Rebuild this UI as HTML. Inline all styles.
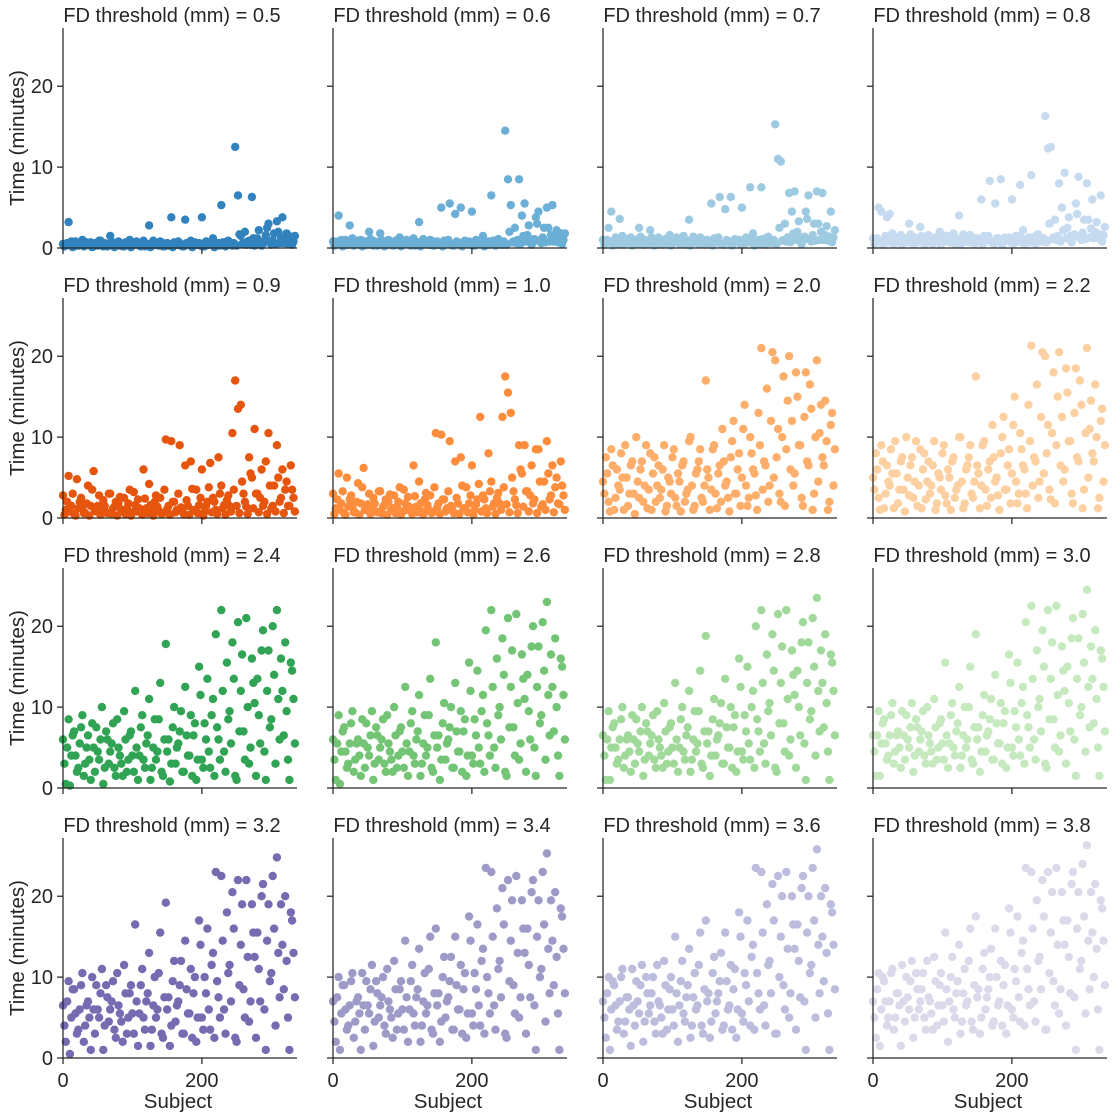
<!DOCTYPE html>
<html><head><meta charset="utf-8">
<style>
html,body{margin:0;padding:0;background:#fff;}
svg{display:block;font-family:"Liberation Sans",sans-serif;}
</style></head>
<body>
<svg id="chart" width="1119" height="1119" viewBox="0 0 1119 1119" xmlns="http://www.w3.org/2000/svg"></svg>
<script>
const thresholds = ["0.5","0.6","0.7","0.8","0.9","1.0","2.0","2.2","2.4","2.6","2.8","3.0","3.2","3.4","3.6","3.8"];
const colors = ["#3182bd","#6baed6","#9ecae1","#c6dbef","#e6550d","#fd8d3c","#fdae6b","#fdd0a2","#31a354","#74c476","#a1d99b","#c7e9c0","#756bb1","#9e9ac8","#bcbddc","#dadaeb"];
const subjects = [0,4,8,12,16,20,24,28,32,36,40,44,48,52,56,60,64,68,72,76,80,84,88,92,96,100,104,108,112,116,120,124,128,132,136,140,144,148,152,156,160,164,168,172,176,180,184,188,192,196,200,204,208,212,216,220,224,228,232,236,240,244,248,252,256,260,264,268,272,276,280,284,288,292,296,300,304,308,312,316,320,324,328,332];
const subjectsB = [2,6,10,14,18,22,26,30,34,38,42,46,50,54,58,62,66,70,74,78,82,86,90,94,98,102,106,110,114,118,122,126,130,134,138,142,146,150,154,158,162,166,170,174,178,182,186,190,194,198,202,206,210,214,218,222,226,230,234,238,242,246,250,254,258,262,266,270,274,278,282,286,290,294,298,302,306,310,314,318,322,326,330,334];
const yTicks = [0,10,20];
const xTicks = [0,200];
const v05 = [0.5,0.3,3.2,0.8,0.2,0.6,0.4,1.0,0.3,0.5,0.7,0.2,0.4,0.9,0.3,0.6,0.2,1.5,0.4,0.3,0.8,0.5,0.2,0.6,1.0,0.3,0.7,0.4,0.2,0.9,0.5,2.8,0.3,0.6,0.4,0.8,0.2,0.5,0.3,3.8,0.7,0.4,0.6,0.2,3.5,0.5,0.9,0.3,0.4,0.6,3.8,0.2,0.7,0.5,1.2,0.3,0.6,5.3,0.4,0.8,0.5,0.3,12.5,6.5,1.5,0.6,0.4,0.9,6.3,0.3,1.2,0.7,0.5,1.6,3.0,0.4,1.8,3.3,0.6,3.8,1.0,0.5,1.4,0.8];
const v06 = [0.8,0.4,4.0,1.0,0.3,0.9,2.8,1.2,0.5,0.7,1.0,0.3,0.6,2.0,0.4,0.8,0.3,1.8,0.6,0.4,1.0,0.7,0.3,0.8,1.3,0.4,0.9,0.6,0.3,1.2,0.7,3.2,0.4,0.8,0.6,1.0,0.3,0.7,0.4,5.0,0.9,0.6,5.5,0.3,4.2,0.7,5.0,0.4,0.6,0.8,4.5,0.3,0.9,0.7,1.5,0.4,0.8,6.5,0.6,1.0,0.7,0.4,14.5,8.5,5.3,0.8,0.6,8.5,4.0,5.5,1.6,0.9,0.7,3.8,4.5,0.6,2.5,5.0,0.8,5.3,1.3,0.7,1.8,1.0];
const v07 = [1.0,0.6,2.5,4.5,0.5,1.1,3.6,1.5,0.7,0.9,1.3,0.5,0.8,2.5,0.6,1.0,0.5,2.2,0.8,0.6,1.3,0.9,0.5,1.0,1.6,0.6,1.2,0.8,0.5,1.5,0.9,3.5,0.6,1.0,0.8,1.3,0.5,0.9,0.6,5.5,1.2,0.8,6.3,0.5,4.8,0.9,6.3,0.6,0.8,1.0,5.0,0.5,1.2,7.5,1.8,0.6,1.0,7.5,0.8,1.3,0.9,0.6,15.3,11.0,10.7,1.0,0.8,6.8,4.5,7.0,2.0,1.2,0.9,4.5,6.5,0.8,3.0,7.0,1.0,6.8,1.6,0.9,4.5,1.3];
const v08 = [1.2,0.8,5.0,4.5,0.7,3.8,4.2,1.8,0.9,1.2,1.6,0.7,1.0,3.0,0.8,1.3,0.7,2.6,1.0,0.8,1.6,1.2,0.7,1.3,2.0,0.8,1.5,1.0,0.7,1.8,1.2,4.0,0.8,1.3,1.0,1.6,0.7,1.2,0.8,6.0,1.5,1.0,8.3,0.7,5.5,1.2,8.5,0.8,1.0,1.3,6.0,0.7,1.5,7.8,2.2,0.8,1.3,9.0,1.0,1.6,1.2,0.8,16.3,12.3,12.5,1.3,1.0,8.0,5.0,9.3,2.5,1.5,1.2,5.5,8.8,1.0,3.5,8.0,1.3,6.0,2.0,1.2,6.5,1.6];
const v09 = [2.8,1.0,5.2,1.5,0.5,4.8,2.0,1.2,0.6,4.0,1.5,5.8,0.8,2.8,1.0,1.5,0.6,3.0,1.2,2.0,1.8,0.9,2.5,1.2,3.5,0.7,1.6,2.3,0.9,6.0,1.2,4.2,0.7,2.0,1.4,2.5,0.6,9.7,1.5,9.5,2.0,1.0,9.0,0.8,6.5,1.5,7.0,1.0,3.5,1.6,6.0,0.8,2.0,6.8,2.5,1.0,7.5,4.0,1.6,2.2,1.5,10.5,17.0,13.5,14.0,3.0,1.4,7.5,5.0,11.0,3.0,2.5,1.5,7.0,10.5,1.2,4.0,9.0,2.0,6.0,3.5,1.5,6.5,2.5];
const v10 = [3.0,1.2,5.5,1.8,0.6,5.0,2.3,1.4,0.7,4.3,1.8,6.2,1.0,3.0,1.2,1.8,0.7,3.3,1.4,2.3,2.0,1.0,2.8,1.4,3.8,0.8,1.8,2.6,1.0,6.5,1.4,4.5,0.8,2.3,1.6,2.8,0.7,10.5,1.8,10.3,2.3,1.2,9.5,1.0,7.0,1.8,7.5,1.2,3.8,1.8,6.5,1.0,2.3,12.5,2.8,1.2,8.0,4.5,1.8,2.5,1.8,12.5,17.5,15.5,13.0,3.3,1.6,9.0,5.5,9.0,3.3,2.8,1.8,8.5,8.5,1.4,4.5,9.5,2.3,6.5,3.8,1.8,7.0,2.8];
const v20 = [4.5,7.5,2.0,8.5,1.0,6.0,3.5,5.0,9.0,1.5,6.5,3.0,10.0,2.5,7.0,4.0,1.2,8.0,5.5,2.0,6.5,3.5,9.0,1.5,4.5,7.5,2.5,5.5,0.8,7.0,3.0,9.5,4.0,1.5,6.0,8.5,2.0,17.0,5.0,3.5,9.0,1.2,6.5,11.0,4.0,2.5,7.5,12.0,3.0,8.0,5.0,14.0,1.5,10.0,6.0,2.8,13.0,21.0,7.0,16.0,4.0,20.5,19.5,11.0,2.0,17.5,8.5,20.0,12.0,5.5,15.0,9.0,1.5,18.0,6.5,13.5,3.0,19.5,10.5,7.5,14.5,1.0,11.5,4.0];
const v22 = [5.0,8.0,2.5,9.0,1.2,6.5,4.0,5.5,9.5,1.8,7.0,3.5,10.0,2.8,7.5,4.5,1.5,8.5,6.0,2.3,7.0,4.0,9.5,1.8,5.0,8.0,2.8,6.0,1.0,7.5,3.5,10.0,4.5,1.8,6.5,9.0,2.5,17.5,5.5,4.0,9.5,1.5,7.0,11.5,4.5,2.8,8.0,12.5,3.5,8.5,5.5,15.0,1.8,10.5,6.5,3.0,14.0,21.3,7.5,16.5,4.5,20.5,20.0,11.5,2.3,18.0,9.0,20.5,12.5,6.0,15.5,9.5,1.8,18.5,7.0,14.0,3.5,21.0,11.0,8.0,16.5,1.2,12.0,4.5];
const v24 = [6.0,0.5,8.5,4.0,7.0,2.0,5.5,9.0,3.0,6.5,1.0,5.0,7.5,3.5,10.0,2.5,6.0,4.5,8.0,1.5,5.0,3.0,9.5,2.0,6.5,4.0,12.0,1.0,7.5,3.5,5.5,11.0,2.5,8.5,4.5,13.0,1.5,17.8,6.0,3.0,10.0,5.0,7.0,2.0,12.5,4.0,9.0,6.5,1.0,15.0,3.5,8.0,13.5,2.5,11.0,19.0,6.0,22.0,4.5,15.5,9.5,18.0,1.5,20.5,12.0,7.0,21.0,3.0,16.0,10.5,13.5,5.5,19.5,1.0,17.0,8.5,14.0,22.0,6.0,12.0,18.0,3.5,15.5,11.0];
const v26 = [6.0,1.0,9.0,4.5,7.5,2.5,5.5,9.5,3.5,6.0,1.5,5.5,8.0,4.0,9.5,3.0,6.5,5.0,8.5,2.0,5.5,3.5,10.0,2.5,7.0,4.5,12.5,1.5,8.0,4.0,6.0,11.5,3.0,9.0,5.0,13.5,2.0,18.0,6.5,3.5,10.5,5.5,7.5,2.5,13.0,4.5,9.5,7.0,1.5,15.5,4.0,8.5,14.5,3.0,11.5,19.5,6.5,22.0,5.0,16.0,10.0,18.5,2.0,21.0,12.5,7.5,21.5,3.5,16.5,11.0,14.0,6.0,20.0,1.5,17.5,9.0,14.5,23.0,6.5,12.5,18.5,4.0,16.0,11.5];
const v28 = [6.5,1.0,9.5,5.0,8.0,3.0,6.0,10.0,4.0,6.5,2.0,6.0,8.5,4.5,10.0,3.5,7.0,5.5,9.0,2.5,6.0,4.0,10.5,3.0,7.5,5.0,13.0,2.0,8.5,4.5,6.5,12.0,3.5,9.5,5.5,14.5,2.5,18.8,7.0,4.0,11.0,6.0,8.0,3.0,13.5,5.0,10.0,7.5,2.0,16.0,4.5,9.0,15.0,3.5,12.0,20.0,7.0,22.0,5.5,16.5,10.5,19.0,2.5,21.5,13.0,8.0,22.0,4.0,17.0,11.5,14.5,6.5,20.5,1.0,18.0,9.5,15.0,23.5,7.0,13.0,19.0,4.5,16.5,12.0];
const v30 = [6.5,1.5,9.5,5.5,8.5,3.5,6.5,10.5,4.5,7.0,2.5,6.5,9.0,5.0,10.5,4.0,7.5,6.0,9.5,3.0,6.5,4.5,11.0,3.5,8.0,5.5,15.5,2.5,9.0,5.0,7.0,12.5,4.0,10.0,6.0,15.0,3.0,19.0,7.5,4.5,11.5,6.5,8.5,3.5,14.0,5.5,10.5,8.0,2.5,16.5,5.0,9.5,15.5,4.0,12.5,20.5,7.5,22.5,6.0,17.0,11.0,19.5,3.0,22.0,13.5,8.5,22.5,4.5,17.5,12.0,15.0,7.0,21.0,1.5,18.5,10.0,15.5,24.5,7.5,13.5,19.5,5.0,17.0,12.5];
const v32 = [6.5,2.0,9.5,5.0,8.5,3.0,6.0,10.5,4.0,7.0,1.0,6.0,9.0,5.0,11.0,4.0,7.5,6.0,9.5,2.5,6.5,4.5,11.5,3.0,8.0,5.5,16.5,1.5,9.0,5.0,7.0,13.0,3.5,10.0,6.0,15.5,2.5,19.2,7.5,4.0,12.0,6.5,9.0,3.0,14.5,5.5,11.0,8.0,2.0,17.0,5.0,10.0,16.0,3.5,13.0,23.0,7.5,22.5,6.0,18.0,11.5,20.5,2.5,22.0,14.0,8.5,22.0,4.5,19.0,12.5,15.5,7.0,21.5,1.0,19.0,10.5,16.0,24.8,7.5,14.0,20.0,5.0,18.0,13.0];
const v34 = [7.0,2.0,10.0,5.5,9.0,3.5,6.5,10.5,4.5,7.5,1.0,6.5,9.5,5.5,11.5,4.5,8.0,6.5,10.0,3.0,7.0,5.0,12.0,3.5,8.5,6.0,14.5,2.0,9.5,5.5,7.5,13.5,4.0,10.5,6.5,15.0,3.0,16.0,8.0,4.5,12.5,7.0,9.5,3.5,15.0,6.0,11.5,8.5,2.5,17.5,5.5,10.5,16.5,4.0,13.5,23.5,8.0,23.0,6.5,18.5,12.0,21.0,3.0,22.0,14.5,9.0,22.5,5.0,19.5,13.0,16.0,7.5,22.0,1.0,19.5,11.0,16.5,25.3,8.0,14.5,20.5,5.5,18.5,13.5];
const v36 = [7.0,2.5,10.0,6.0,9.0,3.5,7.0,11.0,4.5,7.5,1.5,6.5,9.5,5.5,11.5,4.5,8.0,6.5,10.0,3.0,7.0,5.0,12.0,3.5,8.5,6.0,15.0,2.0,9.5,5.5,7.5,13.5,4.0,10.5,6.5,15.5,3.0,17.0,8.0,4.5,12.5,7.0,9.5,3.5,15.5,6.0,11.5,8.5,2.5,18.0,5.5,10.5,17.0,4.0,14.0,23.5,8.0,23.0,6.5,19.0,12.0,21.5,3.0,22.5,15.0,9.0,23.0,5.0,20.0,13.5,16.5,7.5,22.5,1.0,20.0,11.5,17.0,25.8,8.0,15.0,21.0,5.5,19.0,14.0];
const v38 = [7.0,2.5,10.5,6.0,9.5,4.0,7.0,11.0,5.0,8.0,1.5,7.0,10.0,6.0,12.0,5.0,8.5,7.0,10.5,3.5,7.5,5.5,12.5,4.0,9.0,6.5,15.5,2.0,10.0,6.0,8.0,14.0,4.5,11.0,7.0,16.0,3.5,17.5,8.5,5.0,13.0,7.5,10.0,4.0,16.0,6.5,12.0,9.0,3.0,18.5,6.0,11.0,17.5,4.5,14.5,23.5,8.5,23.0,7.0,19.5,12.5,22.0,3.5,23.0,15.5,9.5,23.5,5.5,20.5,14.0,17.0,8.0,23.0,1.0,20.5,12.0,17.5,26.3,8.5,15.5,21.5,6.0,19.5,14.5];
// second subject set (interleaved subjects)
const w05 = [0.2,0.6,0.4,0.1,0.8,0.3,0.5,0.2,0.7,0.4,0.1,0.6,0.3,0.9,0.2,0.5,0.4,0.8,0.1,0.6,0.3,0.2,0.7,0.5,0.1,0.4,0.8,0.3,0.6,0.2,0.5,0.1,0.9,0.4,0.3,0.7,0.2,0.6,0.4,0.1,0.5,0.8,0.3,0.2,0.6,0.4,0.1,0.7,0.5,0.3,0.2,0.8,0.4,0.6,0.1,0.5,0.3,0.7,0.2,0.9,0.4,0.6,0.3,1.7,0.5,2.0,0.8,0.4,1.2,0.6,2.2,0.3,0.9,2.5,0.7,1.0,0.5,2.0,1.3,0.6,1.8,0.9,0.4,1.5];
const w06 = [0.3,0.8,0.5,0.2,1.0,0.4,0.7,0.3,0.9,0.5,0.2,0.8,0.4,1.1,0.3,0.7,0.5,1.0,0.2,0.8,0.4,0.3,0.9,0.7,0.2,0.5,1.0,0.4,0.8,0.3,0.7,0.2,1.1,0.5,0.4,0.9,0.3,0.8,0.5,0.2,0.7,1.0,0.4,0.3,0.8,0.5,0.2,0.9,0.7,0.4,0.3,1.0,0.5,0.8,0.2,0.7,0.4,0.9,0.3,1.1,0.5,0.8,0.4,2.0,0.7,2.5,1.0,0.5,1.5,0.8,2.8,0.4,1.1,3.0,0.9,1.3,0.7,2.5,1.6,0.8,2.2,1.1,0.5,1.8];
const w07 = [0.4,1.0,0.7,0.3,1.3,0.5,0.9,0.4,1.1,0.7,0.3,1.0,0.5,1.4,0.4,0.9,0.7,1.3,0.3,1.0,0.5,0.4,1.1,0.9,0.3,0.7,1.3,0.5,1.0,0.4,0.9,0.3,1.4,0.7,0.5,1.1,0.4,1.0,0.7,0.3,0.9,1.3,0.5,0.4,1.0,0.7,0.3,1.1,0.9,0.5,0.4,1.3,0.7,1.0,0.3,0.9,0.5,1.1,0.4,1.4,0.7,1.0,0.5,2.5,0.9,3.0,1.3,0.7,1.8,1.0,3.3,0.5,1.4,3.6,1.1,1.6,0.9,3.0,2.0,1.0,2.7,1.4,0.7,2.2];
const w08 = [0.5,1.2,0.8,0.4,1.5,0.7,1.1,0.5,1.3,0.8,0.4,1.2,0.7,1.7,0.5,1.1,0.8,1.5,0.4,1.2,0.7,0.5,1.3,1.1,0.4,0.8,1.5,0.7,1.2,0.5,1.1,0.4,1.7,0.8,0.7,1.3,0.5,1.2,0.8,0.4,1.1,1.5,0.7,0.5,1.2,0.8,0.4,1.3,1.1,0.7,0.5,1.5,0.8,1.2,0.4,1.1,0.7,1.3,0.5,1.7,0.8,1.2,0.7,3.0,1.1,3.5,1.5,0.8,2.2,1.2,3.8,0.7,1.7,4.2,1.3,1.9,1.1,3.5,2.4,1.2,3.2,1.7,0.8,2.6];
const w09 = [0.4,2.0,0.8,3.0,0.3,1.2,2.5,0.6,1.8,0.3,3.5,0.9,1.5,0.4,2.2,0.7,3.0,0.5,1.4,0.3,2.6,1.0,0.5,1.8,0.3,3.2,0.8,1.2,0.4,2.4,0.6,1.6,0.3,2.8,0.9,0.5,3.5,1.1,0.4,2.0,0.7,3.0,1.3,0.5,2.2,0.4,3.6,1.0,0.6,2.5,0.3,1.5,3.8,0.7,2.0,0.5,3.0,1.2,0.4,2.8,0.8,3.5,1.5,0.6,4.5,2.0,0.5,5.5,1.2,3.0,0.7,6.0,2.0,0.5,4.0,1.5,0.8,5.0,2.5,0.6,4.5,1.5,3.5,0.8];
const w10 = [0.5,2.3,1.0,3.3,0.4,1.4,2.8,0.7,2.0,0.4,3.8,1.0,1.7,0.5,2.5,0.8,3.3,0.6,1.6,0.4,2.9,1.2,0.6,2.0,0.4,3.5,1.0,1.4,0.5,2.7,0.7,1.8,0.4,3.1,1.0,0.6,3.8,1.3,0.5,2.3,0.8,3.3,1.5,0.6,2.5,0.5,4.0,1.2,0.7,2.8,0.4,1.7,4.2,0.8,2.3,0.6,3.3,1.4,0.5,3.1,1.0,3.8,1.7,0.7,5.0,2.3,0.6,6.0,1.4,3.3,0.8,6.5,2.3,0.6,4.5,1.7,1.0,5.5,2.8,0.7,5.0,1.7,4.0,1.0];
const w20 = [3.0,5.5,0.8,6.5,2.5,4.0,8.0,1.0,5.0,3.0,7.0,0.5,4.5,6.0,2.0,9.0,3.5,1.0,7.5,4.0,2.5,6.0,0.8,5.0,3.0,8.5,1.5,4.5,6.5,2.0,3.5,10.0,1.0,5.5,7.0,2.5,4.0,6.0,1.0,8.5,3.0,5.5,2.0,7.0,4.5,0.8,9.5,3.0,6.0,1.5,11.0,4.0,2.5,8.0,5.5,1.0,9.0,3.5,6.5,2.0,12.0,5.0,7.5,3.0,10.0,1.5,14.5,6.0,4.0,18.0,9.0,2.5,12.5,7.0,16.5,1.0,10.0,4.5,14.0,6.5,9.5,2.0,13.0,8.5];
const w22 = [3.5,6.0,1.0,7.0,3.0,4.5,8.5,1.2,5.5,3.5,7.5,0.8,5.0,6.5,2.5,9.5,4.0,1.2,8.0,4.5,3.0,6.5,1.0,5.5,3.5,9.0,1.8,5.0,7.0,2.5,4.0,10.0,1.2,6.0,7.5,3.0,4.5,6.5,1.2,9.0,3.5,6.0,2.5,7.5,5.0,1.0,10.0,3.5,6.5,1.8,11.5,4.5,3.0,8.5,6.0,1.2,9.5,4.0,7.0,2.5,12.5,5.5,8.0,3.5,10.5,1.8,15.0,6.5,4.5,18.5,9.5,3.0,13.0,7.5,17.0,1.2,10.5,5.0,14.5,7.0,10.0,2.5,13.5,9.0];
const w24 = [3.0,5.0,0.3,6.5,4.0,2.5,7.5,1.5,5.0,3.5,8.0,2.0,4.5,6.0,0.5,7.0,3.0,5.5,2.5,8.5,4.0,1.5,6.0,3.5,7.0,2.0,5.0,4.0,9.0,2.5,6.5,1.0,5.0,3.5,8.5,2.0,6.0,4.5,0.8,7.5,3.0,5.5,9.5,2.0,6.5,4.0,1.5,8.0,3.5,11.5,2.5,6.0,4.5,9.0,1.5,7.5,3.5,12.0,2.0,8.5,5.5,13.5,1.0,7.0,16.5,3.5,10.0,5.0,13.0,1.5,9.0,17.0,4.5,12.0,7.5,20.0,3.0,11.0,16.0,6.5,9.5,1.0,14.5,5.5];
const w26 = [3.5,5.5,0.5,7.0,4.5,3.0,8.0,2.0,5.5,4.0,8.5,2.5,5.0,6.5,1.0,7.5,3.5,6.0,3.0,9.0,4.5,2.0,6.5,4.0,7.5,2.5,5.5,4.5,9.5,3.0,7.0,1.5,5.5,4.0,9.0,2.5,6.5,5.0,1.0,8.0,3.5,6.0,10.0,2.5,7.0,4.5,2.0,8.5,4.0,12.0,3.0,6.5,5.0,9.5,2.0,8.0,4.0,12.5,2.5,9.0,6.0,14.0,1.5,7.5,17.0,4.0,10.5,5.5,13.5,2.0,9.5,17.5,5.0,12.5,8.0,20.5,3.5,11.5,16.5,7.0,10.0,1.5,15.0,6.0];
const w28 = [4.0,6.0,1.0,7.5,5.0,3.5,8.5,2.5,6.0,4.5,9.0,3.0,5.5,7.0,1.5,8.0,4.0,6.5,3.5,9.5,5.0,2.5,7.0,4.5,8.0,3.0,6.0,5.0,10.0,3.5,7.5,2.0,6.0,4.5,9.5,3.0,7.0,5.5,1.5,8.5,4.0,6.5,10.5,3.0,7.5,5.0,2.5,9.0,4.5,12.5,3.5,7.0,5.5,10.0,2.5,8.5,4.5,13.0,3.0,9.5,6.5,14.5,2.0,8.0,17.5,4.5,11.0,6.0,14.0,2.5,10.0,18.0,5.5,13.0,8.5,21.0,4.0,12.0,17.0,7.5,10.5,1.0,15.5,6.5];
const w30 = [4.5,6.5,1.5,8.0,5.5,4.0,9.0,3.0,6.5,5.0,9.5,3.5,6.0,7.5,2.0,8.5,4.5,7.0,4.0,10.0,5.5,3.0,7.5,5.0,8.5,3.5,6.5,5.5,10.5,4.0,8.0,2.5,6.5,5.0,10.0,3.5,7.5,6.0,2.0,9.0,4.5,7.0,11.0,3.5,8.0,5.5,3.0,9.5,5.0,13.0,4.0,7.5,6.0,10.5,3.0,9.0,5.0,13.5,3.5,10.0,7.0,15.0,2.5,8.5,18.0,5.0,11.5,6.5,14.5,3.0,10.5,18.5,6.0,13.5,9.0,21.5,4.5,12.5,17.5,8.0,11.0,1.5,16.0,7.0];
const w32 = [4.0,7.0,0.5,8.5,5.5,3.5,9.0,2.0,6.5,5.0,10.0,3.0,6.0,8.0,1.0,9.0,4.5,7.0,3.5,10.5,5.5,2.0,8.0,5.0,9.0,3.0,7.0,5.5,11.0,3.5,8.0,1.5,6.5,5.0,10.5,3.0,7.5,6.0,1.5,9.5,4.5,7.0,12.0,3.0,8.5,5.5,2.5,10.0,5.0,14.0,3.5,8.0,6.0,11.5,2.5,9.5,5.0,14.5,3.0,10.5,7.0,16.0,2.0,9.0,19.0,5.0,12.5,7.0,15.5,2.5,11.0,20.0,6.0,14.5,9.5,22.5,4.0,13.0,19.0,8.5,12.0,1.0,17.0,7.5];
const w34 = [4.5,7.5,1.0,9.0,6.0,4.0,9.5,2.5,7.0,5.5,10.5,3.5,6.5,8.5,1.5,9.5,5.0,7.5,4.0,11.0,6.0,2.5,8.5,5.5,9.5,3.5,7.5,6.0,11.5,4.0,8.5,2.0,7.0,5.5,11.0,3.5,8.0,6.5,2.0,10.0,5.0,7.5,12.5,3.5,9.0,6.0,3.0,10.5,5.5,14.5,4.0,8.5,6.5,12.0,3.0,10.0,5.5,15.0,3.5,11.0,7.5,16.5,2.5,9.5,19.5,5.5,13.0,7.5,16.0,3.0,11.5,20.5,6.5,15.0,10.0,23.0,4.5,13.5,19.5,9.0,12.5,1.0,17.5,8.0];
const w36 = [5.0,8.0,1.0,9.5,6.5,4.5,10.0,3.0,7.5,6.0,11.0,4.0,7.0,9.0,2.0,10.0,5.5,8.0,4.5,11.5,6.5,3.0,9.0,6.0,10.0,4.0,8.0,6.5,12.0,4.5,9.0,2.5,7.5,6.0,11.5,4.0,8.5,7.0,2.5,10.5,5.5,8.0,13.0,4.0,9.5,6.5,3.5,11.0,6.0,15.0,4.5,9.0,7.0,12.5,3.5,10.5,6.0,15.5,4.0,11.5,8.0,17.0,3.0,10.0,20.0,6.0,13.5,8.0,16.5,3.5,12.0,21.0,7.0,15.5,10.5,23.5,5.0,14.0,20.0,9.5,13.0,1.0,18.0,8.5];
const w38 = [5.0,8.5,1.5,10.0,7.0,5.0,10.5,3.5,8.0,6.5,11.5,4.5,7.5,9.5,2.5,10.5,6.0,8.5,5.0,12.0,7.0,3.5,9.5,6.5,10.5,4.5,8.5,7.0,12.5,5.0,9.5,3.0,8.0,6.5,12.0,4.5,9.0,7.5,3.0,11.0,6.0,8.5,13.5,4.5,10.0,7.0,4.0,11.5,6.5,15.5,5.0,9.5,7.5,13.0,4.0,11.0,6.5,16.0,4.5,12.0,8.5,17.5,3.5,10.5,20.5,6.5,14.0,8.5,17.0,4.0,12.5,21.5,7.5,16.0,11.0,24.0,5.5,14.5,20.5,10.0,13.5,1.0,18.5,9.0];
const series = [v05,v06,v07,v08,v09,v10,v20,v22,v24,v26,v28,v30,v32,v34,v36,v38];
const seriesB = [w05,w06,w07,w08,w09,w10,w20,w22,w24,w26,w28,w30,w32,w34,w36,w38];

const NS = "http://www.w3.org/2000/svg";
const svg = document.getElementById("chart");
const X0 = 63, PW = 234, COLSTEP = 270, Y0 = 248, ROWSTEP = 270, PH = 220;
const xMax = 337, yMax = 27.2;
function xs(col, v){ return X0 + col*COLSTEP + v/xMax*PW; }
function ys(row, v){ return Y0 + row*ROWSTEP - v/yMax*PH; }
function mk(tag, attrs, parent){ const e=document.createElementNS(NS,tag); for(const k in attrs) e.setAttribute(k, attrs[k]); (parent||svg).appendChild(e); return e; }

for (let p=0; p<16; p++){
  const row = Math.floor(p/4), col = p%4;
  const g = mk("g", {});
  
  
  const pts = mk("g", {fill: colors[p]}, g);
  
  
  const sets = [[subjects, series[p]], [subjectsB, seriesB[p]]];
  for (const [sx, vals] of sets){
    for (let i=0;i<sx.length;i++){
      const c = mk("circle", {cx: xs(col, sx[i]).toFixed(1), cy: ys(row, vals[i]).toFixed(1), r: 4.2}, pts);
      
      
    }
  }
  const left = X0 + col*COLSTEP, bottom = Y0 + row*ROWSTEP;
  const ax = mk("path", {d:`M${left},${bottom-PH}V${bottom}H${left+PW}`, fill:"none", stroke:"#262626", "stroke-width":1.25}, g);
  
  
  for (const t of yTicks){
    const y = ys(row,t);
    const tk = mk("line", {x1:left-6, x2:left, y1:y, y2:y, stroke:"#262626", "stroke-width":1.25}, g);
    
    
    if (col===0){
      const tl = mk("text", {x:left-10, y:y+7, "text-anchor":"end", "font-size":20, fill:"#262626"}, g);
      tl.textContent = t;
      
      
    }
  }
  for (const t of xTicks){
    const x = xs(col,t);
    const tk = mk("line", {x1:x, x2:x, y1:bottom, y2:bottom+6, stroke:"#262626", "stroke-width":1.25}, g);
    
    
    if (row===3){
      const tl = mk("text", {x:x, y:bottom+29, "text-anchor":"middle", "font-size":20, fill:"#262626"}, g);
      tl.textContent = t;
      
      
    }
  }
  const title = mk("text", {x:left+109, y:bottom-PH-6, "text-anchor":"middle", "font-size":20, fill:"#262626"}, g);
  title.textContent = "FD threshold (mm) = " + thresholds[p];
  
  
  if (col===0){
    const yl = mk("text", {transform:`translate(24,${bottom-PH/2}) rotate(-90)`, "text-anchor":"middle", "font-size":20.5, fill:"#262626"}, g);
    yl.textContent = "Time (minutes)";
    
    
  }
  if (row===3){
    const xl = mk("text", {x:left+PW/2-2, y:bottom+50, "text-anchor":"middle", "font-size":20.5, fill:"#262626"}, g);
    xl.textContent = "Subject";
    
    
  }
}
</script>
</body></html>
